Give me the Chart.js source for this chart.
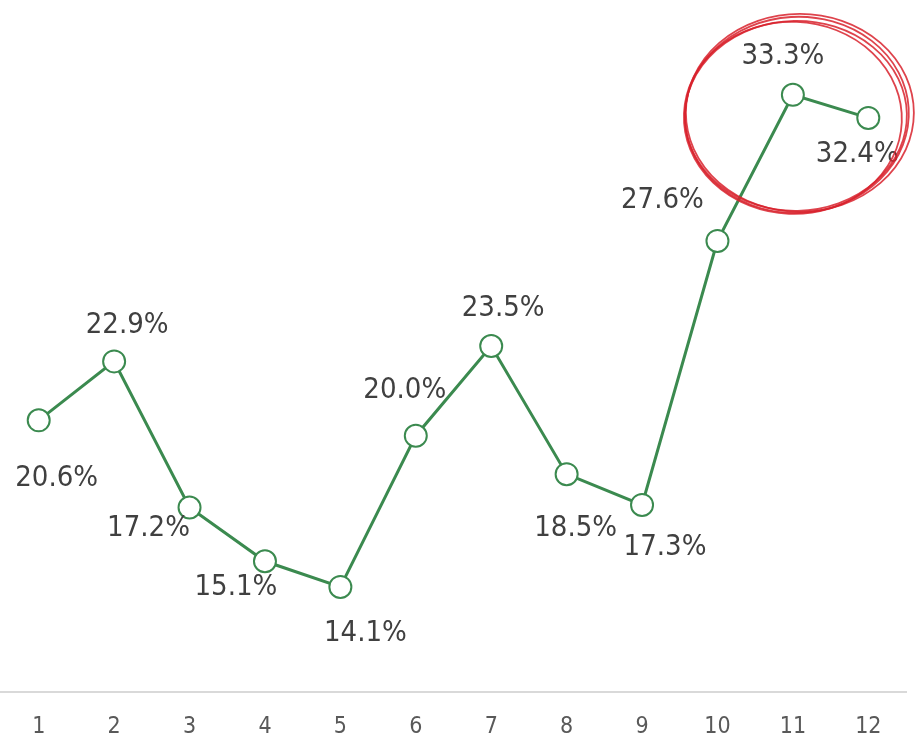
<!DOCTYPE html>
<html>
<head>
<meta charset="utf-8">
<script src="https://cdn.jsdelivr.net/npm/chart.js@4.4.0/dist/chart.umd.min.js"></script>
<style>
    body { margin: 0; background: #fff; }
    #wrap { width: 917px; height: 738px; }
</style>
</head>
<body>
<div id="wrap"><canvas id="rateChart" width="917" height="738"></canvas></div>
<script>
// data
const months = ['1', '2', '3', '4', '5', '6', '7', '8', '9', '10', '11', '12'];
const rates = [20.6, 22.9, 17.2, 15.1, 14.1, 20.0, 23.5, 18.5, 17.3, 27.6, 33.3, 32.4];

// where each value label sits relative to its point (px)
const labelOffsets = [
    [18, 58], [13, -36], [-41, 21], [-29, 26], [25, 47], [-11, -45],
    [12, -38], [9, 54], [23, 43], [-55, -40], [-10, -38], [-11, 37]
];

const lineColor = '#3b8a4f';

const valueLabels = {
    id: 'valueLabels',
    afterDatasetsDraw(chart) {
        const ctx = chart.ctx;
        const meta = chart.getDatasetMeta(0);
        ctx.save();
        ctx.font = '29px "DejaVu Sans Condensed", "DejaVu Sans", sans-serif';
        ctx.fillStyle = '#404040';
        ctx.textAlign = 'center';
        ctx.textBaseline = 'middle';
        meta.data.forEach((pt, i) => {
            const off = labelOffsets[i];
            ctx.fillText(rates[i].toFixed(1) + '%', pt.x + off[0], pt.y + off[1]);
        });
        ctx.restore();
    }
};

// hand drawn red ring round the last two months
const highlightRing = {
    id: 'highlightRing',
    afterDraw(chart) {
        const ctx = chart.ctx;
        const meta = chart.getDatasetMeta(0);
        const p = meta.data[10];
        const cx = p.x + 4;
        const cy = p.y + 20;
        ctx.save();
        ctx.strokeStyle = 'rgba(216, 34, 45, 0.85)';
        ctx.lineWidth = 1.8;
        const passes = [
            [0, 0, 112, 98, -0.06], [-4, 3, 109, 96, 0.04], [3, -2, 114, 99, 0.0],
            [-1, 1, 111, 95, -0.02]
        ];
        passes.forEach(s => {
            ctx.beginPath();
            ctx.ellipse(cx + s[0], cy + s[1], s[2], s[3], s[4], 0, Math.PI * 2);
            ctx.stroke();
        });
        ctx.restore();
    }
};

document.addEventListener('DOMContentLoaded', function() {
    const ctx = document.getElementById('rateChart').getContext('2d');
    new Chart(ctx, {
        type: 'line',
        data: {
            labels: months,
            datasets: [{
                data: rates,
                borderColor: lineColor,
                borderWidth: 3,
                pointRadius: 11,
                pointHoverRadius: 11,
                pointBorderWidth: 2,
                pointBorderColor: lineColor,
                pointBackgroundColor: '#ffffff',
                tension: 0,
                clip: false
            }]
        },
        options: {
            responsive: false,
            animation: false,
            layout: { autoPadding: false, padding: { left: 1, right: 11, top: 0, bottom: 0 } },
            plugins: {
                legend: { display: false },
                tooltip: { enabled: false }
            },
            scales: {
                x: {
                    offset: true,
                    grid: { display: true, drawOnChartArea: false, drawTicks: false },
                    border: { display: true, color: '#d9d9d9', width: 2 },
                    ticks: {
                        color: '#595959',
                        padding: 21,
                        font: { family: '"DejaVu Sans Condensed", "Liberation Sans Narrow", sans-serif', size: 23 }
                    },
                    afterFit: function(scale) {
                        scale.height = 46;
                        scale.paddingLeft = 0;
                        scale.paddingRight = 0;
                    }
                },
                y: {
                    display: false,
                    min: 10,
                    max: 37
                }
            }
        },
        plugins: [valueLabels, highlightRing]
    });
});
</script>
</body>
</html>
